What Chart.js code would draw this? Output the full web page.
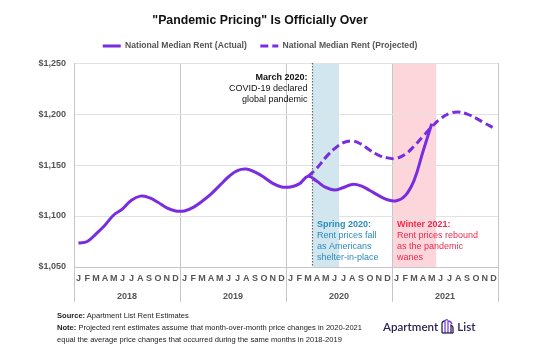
<!DOCTYPE html>
<html>
<head>
<meta charset="utf-8">
<script src="https://cdn.jsdelivr.net/npm/chart.js@4"></script>
<style>
  body { margin: 0; background: #fff; }
  #wrap { position: relative; width: 546px; height: 363px; font-family: 'Liberation Sans', Arial, sans-serif; }
  #footer { position: absolute; left: 57px; top: 310px; font-size: 7.55px; line-height: 12px; color: #222; }
  #footer p { margin: 0; }
  #logo { position: absolute; left: 383px; top: 318px; font-family: Lato, 'Noto Sans', sans-serif; font-size: 11.6px; font-weight: 600; color: #2b2352; display: flex; align-items: center; gap: 2px; }
</style>
</head>
<body>
<div id="wrap">
  <canvas id="rentChart" width="546" height="363"></canvas>
  <div id="footer">
    <p><b>Source:</b> Apartment List Rent Estimates</p>
    <p><b>Note:</b> Projected rent estimates assume that month-over-month price changes in 2020-2021</p>
    <p>equal the average price changes that occurred during the same months in 2018-2019</p>
  </div>
  <div id="logo">
    <span>Apartment</span>
    <svg width="15" height="16" viewBox="0 0 15 16">
      <path d="M2 15 V6 Q2 3 5 3" fill="none" stroke="#2b2352" stroke-width="1.3"/>
      <path d="M5 15 V4 Q5 1 8 2" fill="none" stroke="#7b3fe4" stroke-width="1.3"/>
      <path d="M8 15 V3 Q11 3 12 6" fill="none" stroke="#7b3fe4" stroke-width="1.3"/>
      <path d="M11 15 V7 Q13 8 13 10 V15" fill="none" stroke="#2b2352" stroke-width="1.3"/>
      <path d="M2 15 H13" stroke="#2b2352" stroke-width="1.3"/>
    </svg>
    <span>List</span>
  </div>
</div>
<script>
// month letters for the bottom axis, 4 years of them
let months = ['J', 'F', 'M', 'A', 'M', 'J', 'J', 'A', 'S', 'O', 'N', 'D'];
let monthLabels = [].concat(months, months, months, months);
let years = ['2018', '2019', '2020', '2021'];

// national median rent, Jan 2018 - May 2021
let actualRent = [
    1073.5, 1075, 1082.5, 1091, 1101, 1107, 1115.5, 1119.5, 1118, 1113.5, 1108, 1105,
    1105, 1108.5, 1114.5, 1121.5, 1130, 1138.5, 1144.5, 1146, 1143, 1138, 1132, 1128.5,
    1128.5, 1131.5, 1139, 1134, 1128, 1125.5, 1128, 1131, 1129.5, 1125, 1120, 1116,
    1115, 1120, 1135, 1163, 1190.5, null, null, null, null, null, null, null
];

// projected rent, Mar 2020 - Dec 2021
let projectedRent = [
    null, null, null, null, null, null, null, null, null, null, null, null,
    null, null, null, null, null, null, null, null, null, null, null, null,
    null, null, 1139, 1147, 1157.5, 1166, 1172, 1173.5, 1170.5, 1164.5, 1159.5, 1157,
    1156.5, 1160.5, 1168.5, 1178, 1187.5, 1195.5, 1200.5, 1202, 1200, 1196, 1191, 1186.5
];

let yTicks = [1050, 1100, 1150, 1200, 1250];

// shaded periods (category index, edges between months)
let springStart = 26.5, springEnd = 29.5;
let winterStart = 35.5, winterEnd = 40.5;
let pandemicLine = 26.5;
let yearEdges = [-0.5, 11.5, 23.5, 35.5, 47.5];

const purple = '#7a2de0';
const labelGray = '#555';
const lineGray = '#c6c6c6';
const fontFamily = "'Liberation Sans', Arial, sans-serif";

Chart.defaults.font.family = fontFamily;

// bands, dotted line and the text notes
const notesPlugin = {
    id: 'notes',
    beforeDraw(chart) {
        const { ctx, chartArea, scales: { x } } = chart;
        ctx.save();
        ctx.fillStyle = '#d2e6ef';
        let x1 = x.getPixelForValue(springStart);
        let x2 = x.getPixelForValue(springEnd);
        ctx.fillRect(x1, chartArea.top, x2 - x1, chartArea.bottom - chartArea.top);
        ctx.fillStyle = '#fdd6dc';
        x1 = x.getPixelForValue(winterStart);
        x2 = x.getPixelForValue(winterEnd);
        ctx.fillRect(x1, chartArea.top, x2 - x1, chartArea.bottom - chartArea.top);
        ctx.restore();
    },
    afterDatasetsDraw(chart) {
        const { ctx, chartArea, scales: { x, xYear } } = chart;
        const px = x.getPixelForValue(pandemicLine);
        ctx.save();

        // year separators carried down through the axis labels
        ctx.strokeStyle = lineGray;
        ctx.lineWidth = 1;
        yearEdges.forEach(v => {
            let ex = Math.round(x.getPixelForValue(v)) + 0.5;
            ctx.beginPath();
            ctx.moveTo(ex, chartArea.bottom);
            ctx.lineTo(ex, xYear.bottom);
            ctx.stroke();
        });

        ctx.strokeStyle = '#666';
        ctx.lineWidth = 1.2;
        ctx.setLineDash([1.5, 1.5]);
        ctx.beginPath();
        ctx.moveTo(px, chartArea.top);
        ctx.lineTo(px, chartArea.bottom);
        ctx.stroke();
        ctx.setLineDash([]);

        ctx.textBaseline = 'middle';
        // March 2020 note, sits left of the line
        ctx.textAlign = 'right';
        ctx.fillStyle = '#111';
        ctx.font = 'bold 9px ' + fontFamily;
        ctx.fillText('March 2020:', px - 5, chartArea.top + 14);
        ctx.font = '9px ' + fontFamily;
        ctx.fillText('COVID-19 declared', px - 5, chartArea.top + 25.5);
        ctx.fillText('global pandemic', px - 5, chartArea.top + 36.5);

        // spring + winter notes
        ctx.textAlign = 'left';
        let sx = px + 4.5;
        let wx = x.getPixelForValue(winterStart) + 5;
        let lines = [chartArea.bottom - 42, chartArea.bottom - 31, chartArea.bottom - 20, chartArea.bottom - 9];
        ctx.fillStyle = '#2a8bbd';
        ctx.font = 'bold 9px ' + fontFamily;
        ctx.fillText('Spring 2020:', sx, lines[0]);
        ctx.font = '9px ' + fontFamily;
        ctx.fillText('Rent prices fall', sx, lines[1]);
        ctx.fillText('as Americans', sx, lines[2]);
        ctx.fillText('shelter-in-place', sx, lines[3]);

        ctx.fillStyle = '#ec2a4d';
        ctx.font = 'bold 9px ' + fontFamily;
        ctx.fillText('Winter 2021:', wx, lines[0]);
        ctx.font = '9px ' + fontFamily;
        ctx.fillText('Rent prices rebound', wx, lines[1]);
        ctx.fillText('as the pandemic', wx, lines[2]);
        ctx.fillText('wanes', wx, lines[3]);
        ctx.restore();
    }
};

function drawChart() {
    const context = document.getElementById('rentChart').getContext('2d');

    const data = {
        labels: monthLabels,
        datasets: [{
            label: 'National Median Rent (Actual)',
            data: actualRent,
            borderColor: purple,
            borderWidth: 3,
            pointRadius: 0,
            tension: 0.4
        }, {
            label: 'National Median Rent (Projected)',
            data: projectedRent,
            borderColor: purple,
            borderWidth: 3,
            borderDash: [8, 4],
            pointRadius: 0,
            tension: 0.4
        }]
    };

    const options = {
        responsive: false,
        animation: false,
        layout: { padding: { left: 22, right: 48, top: 0, bottom: 61.2 } },
        plugins: {
            title: {
                display: true,
                text: '"Pandemic Pricing" Is Officially Over',
                color: '#111',
                font: { size: 12.3, weight: 'bold' },
                padding: { top: 13, bottom: 0.5 }
            },
            // empty subtitle used as a small gap between legend and plot
            subtitle: {
                display: true,
                text: '',
                weight: 500,
                font: { size: 2.25 },
                padding: 0
            },
            legend: {
                position: 'top',
                labels: {
                    usePointStyle: true,
                    pointStyleWidth: 18,
                    boxHeight: 8,
                    padding: 13.5,
                    color: labelGray,
                    font: { size: 8.6, weight: 'bold' },
                    generateLabels(chart) {
                        return chart.data.datasets.map((ds, i) => ({
                            text: ds.label,
                            fillStyle: ds.borderColor,
                            strokeStyle: ds.borderColor,
                            lineWidth: 3,
                            lineDash: ds.borderDash || [],
                            pointStyle: 'line',
                            fontColor: labelGray,
                            datasetIndex: i,
                            hidden: false
                        }));
                    }
                }
            },
            tooltip: { enabled: false }
        },
        scales: {
            x: {
                type: 'category',
                offset: true,
                grid: {
                    offset: true,
                    drawTicks: false,
                    color: c => (c.type !== 'tick' || c.index % 12 === 0) ? lineGray : 'rgba(0,0,0,0)'
                },
                border: { color: lineGray },
                ticks: {
                    autoSkip: false,
                    maxRotation: 0,
                    padding: 6.6,
                    color: labelGray,
                    font: { size: 9, weight: 'bold' }
                }
            },
            xYear: {
                type: 'category',
                position: 'bottom',
                labels: years,
                offset: true,
                grid: { display: false, drawTicks: false },
                border: { display: false },
                ticks: {
                    padding: 0,
                    color: labelGray,
                    font: { size: 9, weight: 'bold' }
                }
            },
            y: {
                min: yTicks[0],
                max: yTicks[yTicks.length - 1],
                afterBuildTicks: scale => { scale.ticks = yTicks.map(v => ({ value: v })); },
                afterFit: scale => { scale.width = 52; },
                grid: { color: '#e2e2e2', drawTicks: false },
                border: { color: lineGray },
                ticks: {
                    padding: 8,
                    color: labelGray,
                    font: { size: 9, weight: 'bold' },
                    callback: v => '$' + v.toLocaleString('en-US')
                }
            }
        }
    };

    window.rentChart = new Chart(context, {
        type: 'line',
        data: data,
        options: options,
        plugins: [notesPlugin]
    });
}

drawChart();
</script>
</body>
</html>
